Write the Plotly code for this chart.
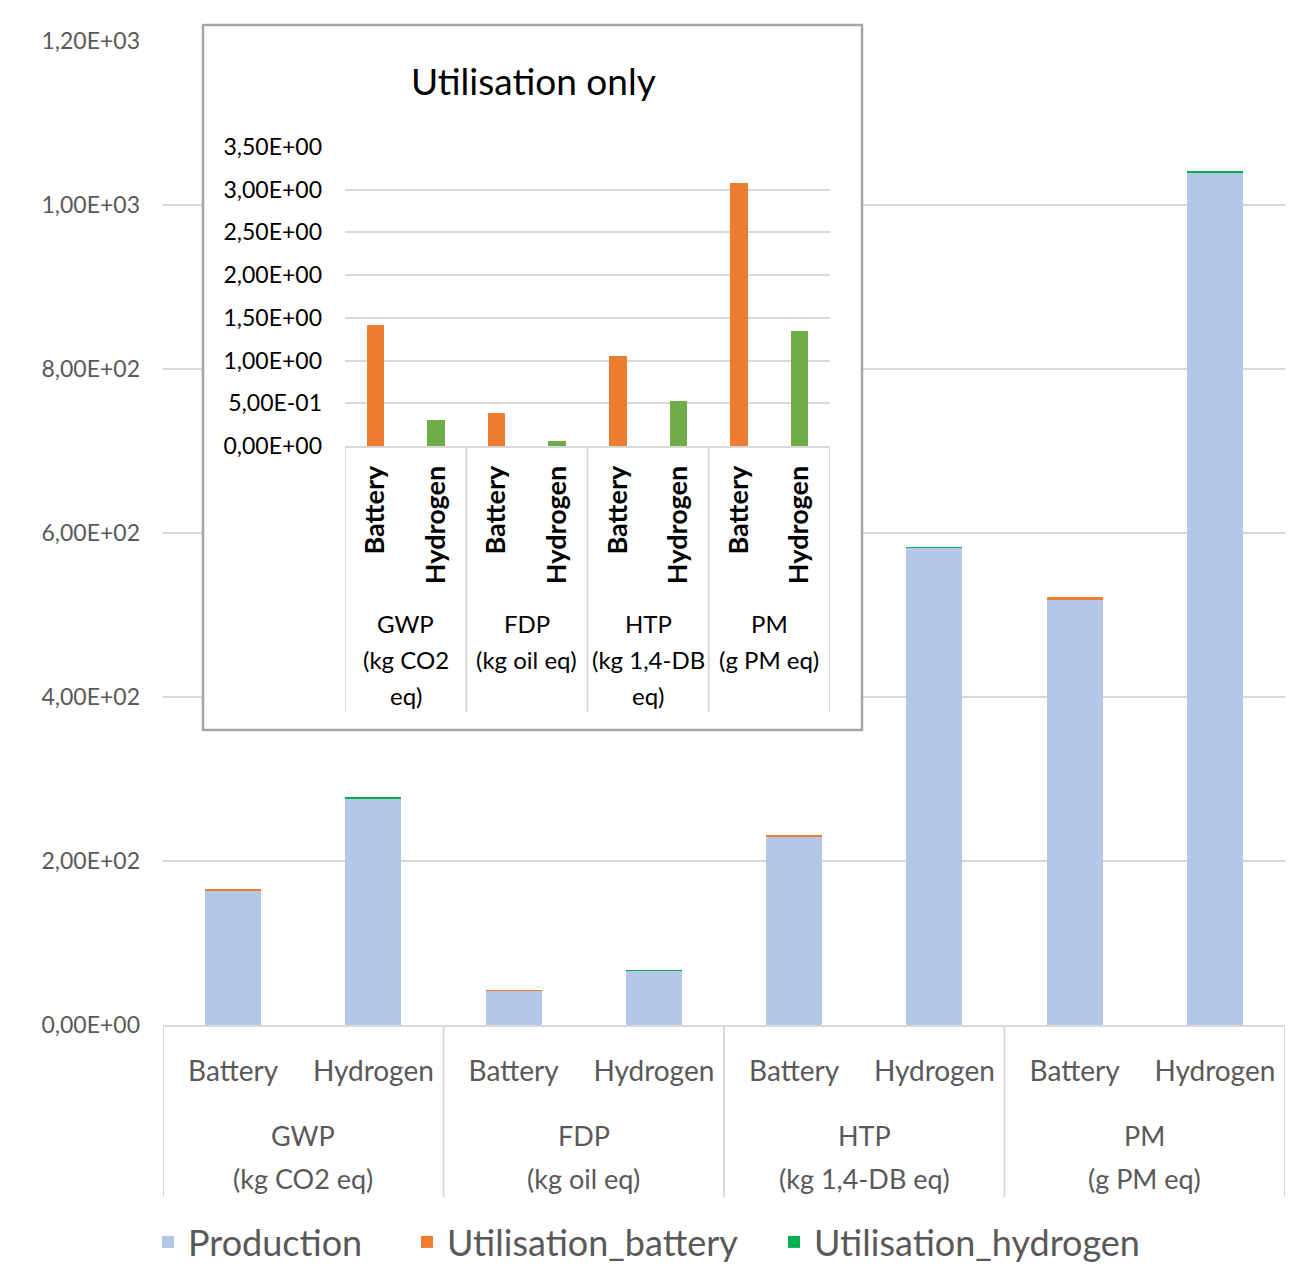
import plotly.graph_objects as go

# Impact categories and their units
categories = ["GWP", "FDP", "HTP", "PM"]
units_main = ["(kg CO2 eq)", "(kg oil eq)", "(kg 1,4-DB eq)", "(g PM eq)"]
units_inset = [["(kg CO2", "eq)"], ["(kg oil eq)"], ["(kg 1,4-DB", "eq)"], ["(g PM eq)"]]
vehicles = ["Battery", "Hydrogen"]

# Life-cycle results per vehicle
production_battery = [164.6, 41.7, 230.0, 518.6]
production_hydrogen = [276.8, 66.7, 582.2, 1039.9]
utilisation_battery = [1.42, 0.39, 1.05, 3.08]
utilisation_hydrogen = [0.30, 0.06, 0.53, 1.35]

# Axis ticks
main_tickvals = [0, 200, 400, 600, 800, 1000, 1200]
main_ticktext = ["0,00E+00", "2,00E+02", "4,00E+02", "6,00E+02", "8,00E+02", "1,00E+03", "1,20E+03"]
inset_tickvals = [0, 0.5, 1.0, 1.5, 2.0, 2.5, 3.0, 3.5]
inset_ticktext = ["0,00E+00", "5,00E-01", "1,00E+00", "1,50E+00", "2,00E+00", "2,50E+00", "3,00E+00", "3,50E+00"]

C_PROD = "#B4C7E7"
C_BAT = "#ED7D31"
C_HYD = "#00B050"
C_HYD_INSET = "#70AD47"
GRID = "#D9D9D9"
GREY_TEXT = "#595959"
FONT = "Lato"

W, H = 1303, 1264


def px(x):
    return x / W


def py(y):
    return 1 - y / H


# Bar slots: two vehicles per impact category
n_groups = len(categories)
xpos = list(range(2 * n_groups))
xlabels = [v for _ in categories for v in vehicles]

prod = []
ub = []
uh = []
for g in range(n_groups):
    prod += [production_battery[g], production_hydrogen[g]]
    ub += [utilisation_battery[g], 0]
    uh += [0, utilisation_hydrogen[g]]

inset_vals = []
inset_cols = []
for g in range(n_groups):
    inset_vals += [utilisation_battery[g], utilisation_hydrogen[g]]
    inset_cols += [C_BAT, C_HYD_INSET]

fig = go.Figure()
fig.add_trace(go.Bar(x=xpos, y=prod, name="Production", marker=dict(color=C_PROD, line=dict(width=0)),
                     width=0.4, xaxis="x", yaxis="y", legend="legend"))
fig.add_trace(go.Bar(x=xpos, y=ub, name="Utilisation_battery", marker=dict(color=C_BAT, line=dict(width=0)),
                     width=0.4, xaxis="x", yaxis="y", legend="legend2"))
fig.add_trace(go.Bar(x=xpos, y=uh, name="Utilisation_hydrogen", marker=dict(color=C_HYD, line=dict(width=0)),
                     width=0.4, xaxis="x", yaxis="y", legend="legend3"))
# empty trace that hosts the white panel behind the inset
fig.add_trace(go.Scatter(x=[], y=[], xaxis="x2", yaxis="y2", showlegend=False, hoverinfo="skip"))
# inset: utilisation only
fig.add_trace(go.Bar(x=xpos, y=inset_vals, marker=dict(color=inset_cols, line=dict(width=0)),
                     width=0.29, xaxis="x3", yaxis="y3", showlegend=False))

main_x_dom = [px(163), px(1285)]
main_y_dom = [py(1025), py(41)]
box_x = [px(203), px(862)]
box_y = [py(730), py(25)]
in_x_dom = [px(345), px(830)]
in_y_dom = [py(446), py(147)]


def legend_at(text_left):
    return dict(orientation="h", x=px(text_left - 40), xanchor="left", y=py(1242), yanchor="middle",
                font=dict(size=36, color=GREY_TEXT, family=FONT), bgcolor="rgba(0,0,0,0)",
                borderwidth=0)


fig.update_layout(
    width=W, height=H,
    margin=dict(l=0, r=0, t=0, b=0, autoexpand=False),
    paper_bgcolor="white", plot_bgcolor="white",
    font=dict(family=FONT, color=GREY_TEXT),
    barmode="stack",
    bargap=0,
    showlegend=True,
    legend=legend_at(188),
    legend2=legend_at(447),
    legend3=legend_at(814),
    xaxis=dict(domain=main_x_dom, range=[-0.5, 7.5], tickmode="array", tickvals=xpos, ticktext=xlabels,
               showgrid=False, zeroline=False, showline=True, linecolor=GRID, linewidth=2,
               ticks="", ticklabelstandoff=20, tickfont=dict(size=28, color=GREY_TEXT), anchor="y",
               fixedrange=True, automargin=False),
    yaxis=dict(domain=main_y_dom, range=[0, 1200], tickmode="array", tickvals=main_tickvals,
               ticktext=main_ticktext, showgrid=True, gridcolor=GRID, gridwidth=2, zeroline=False,
               showline=False, ticks="", ticklabelstandoff=22, tickfont=dict(size=23, color=GREY_TEXT),
               anchor="x", fixedrange=True, automargin=False),
    xaxis2=dict(domain=box_x, range=[0, 1], visible=False, anchor="y2", fixedrange=True, automargin=False),
    yaxis2=dict(domain=box_y, range=[0, 1], visible=False, anchor="x2", fixedrange=True, automargin=False),
    xaxis3=dict(domain=in_x_dom, range=[-0.5, 7.5], tickmode="array", tickvals=xpos, ticktext=xlabels,
                tickangle=-90, showgrid=False, zeroline=False, showline=True, linecolor=GRID, linewidth=2,
                ticks="", ticklabelstandoff=7,
                tickfont=dict(size=27, color="#000000", family=FONT, weight="bold"), anchor="y3",
                fixedrange=True, automargin=False),
    yaxis3=dict(domain=in_y_dom, range=[0, 3.5], tickmode="array", tickvals=inset_tickvals,
                ticktext=inset_ticktext, showgrid=True, gridcolor=GRID, gridwidth=2, zeroline=False,
                showline=False, ticks="", ticklabelstandoff=22, tickfont=dict(size=23, color="#000000"),
                anchor="x3", fixedrange=True, automargin=False),
)

shapes = []
# white panel of the inset (drawn in its own subplot, above the main grid)
shapes.append(dict(type="rect", xref="x2", yref="y2", x0=0, x1=1, y0=0, y1=1,
                   fillcolor="white", line=dict(width=0), layer="below"))
# inset frame
shapes.append(dict(type="rect", xref="paper", yref="paper", x0=box_x[0], x1=box_x[1], y0=box_y[0], y1=box_y[1],
                   fillcolor="rgba(0,0,0,0)", line=dict(color="#A6A6A6", width=2.5), layer="above"))
# group dividers under the category axes
for g in range(n_groups + 1):
    xd = -0.5 + 2 * g
    shapes.append(dict(type="line", xref="x", yref="paper", x0=xd, x1=xd, y0=py(1025), y1=py(1197),
                       line=dict(color=GRID, width=2), layer="above"))
    shapes.append(dict(type="line", xref="x3", yref="paper", x0=xd, x1=xd, y0=py(446), y1=py(712),
                       line=dict(color=GRID, width=2), layer="above"))
fig.update_layout(shapes=shapes)

annotations = []
# inset title
annotations.append(dict(text="Utilisation only", xref="paper", yref="paper", x=px(533), y=py(80),
                        showarrow=False, font=dict(size=37, color="#000000", family=FONT),
                        xanchor="center", yanchor="middle"))
# group labels, one line per annotation
main_line_y = [1135, 1178]
inset_line_y = [623, 659, 695]
for g in range(n_groups):
    xc = 2 * g + 0.5
    for text, yy in zip([categories[g], units_main[g]], main_line_y):
        annotations.append(dict(text=text, xref="x", yref="paper", x=xc, y=py(yy), showarrow=False,
                                font=dict(size=27, color=GREY_TEXT, family=FONT),
                                xanchor="center", yanchor="middle"))
    for text, yy in zip([categories[g]] + units_inset[g], inset_line_y):
        annotations.append(dict(text=text, xref="x3", yref="paper", x=xc, y=py(yy), showarrow=False,
                                font=dict(size=24, color="#000000", family=FONT),
                                xanchor="center", yanchor="middle"))
fig.update_layout(annotations=annotations)

fig.write_html("out.html")
